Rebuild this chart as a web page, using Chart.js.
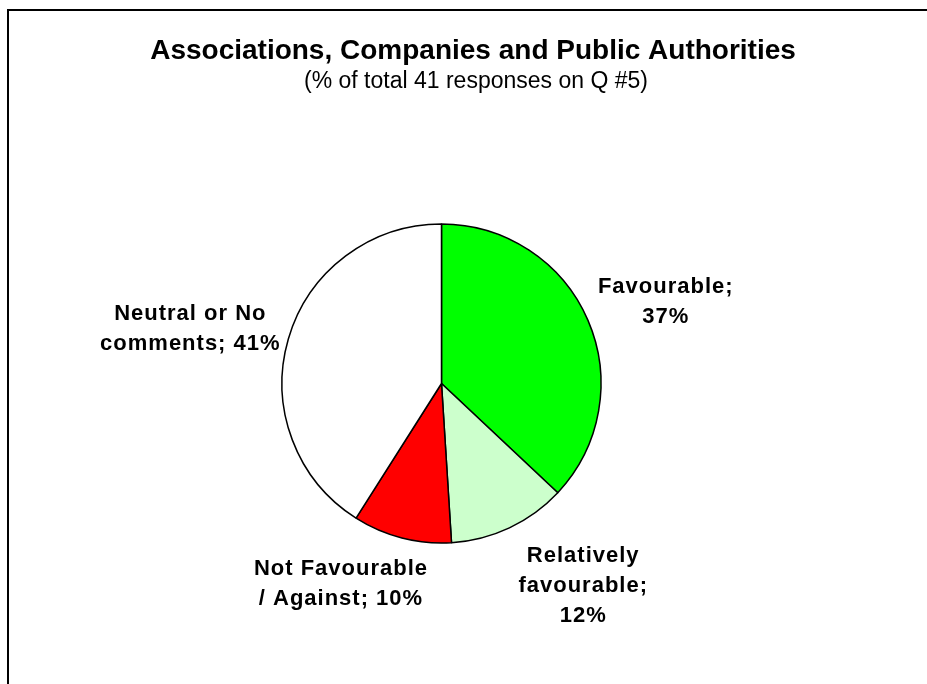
<!DOCTYPE html>
<html>
<head>
<meta charset="utf-8">
<title>Q5 responses</title>
<script src="https://cdn.jsdelivr.net/npm/chart.js@4.4.0/dist/chart.umd.min.js"></script>
<style>
  html, body { margin: 0; padding: 0; background: #fff; }
  #wrap { width: 927px; height: 684px; position: relative; }
</style>
</head>
<body>
<div id="wrap"><canvas id="opinionChart"></canvas></div>
<script>
// answers to Q #5, share of the 41 responses
var categories = ['Favourable', 'Relatively favourable', 'Not Favourable / Against', 'Neutral or No comments'];
var shares = [37, 12, 10, 41];
var sliceColors = ['#00ff00', '#ccffcc', '#ff0000', '#ffffff'];
// how each slice label is broken into lines, {p} = the share
var labelTemplates = ['Favourable;\n{p}', 'Relatively\nfavourable;\n{p}', 'Not Favourable\n/ Against; {p}', 'Neutral or No\ncomments; {p}'];

var titleText = 'Associations, Companies and Public Authorities';
var subtitleText = '(% of total 41 responses on Q #5)';

var LABEL_FONT = 'bold 22px "Liberation Sans", Arial, sans-serif';

// white background, frame line and the two heading lines
var frameAndTitle = {
  id: 'frameAndTitle',
  beforeDraw: function (chart) {
    var ctx = chart.ctx;
    ctx.save();
    ctx.fillStyle = '#fff';
    ctx.fillRect(0, 0, chart.width, chart.height);
    ctx.strokeStyle = '#000';
    ctx.lineWidth = 2;
    ctx.strokeRect(8, 10, chart.width + 20, chart.height + 20);

    ctx.fillStyle = '#000';
    ctx.textAlign = 'center';
    ctx.textBaseline = 'middle';
    ctx.font = 'bold 28px "Liberation Sans", Arial, sans-serif';
    ctx.fillText(titleText, 473, 51);
    ctx.font = '23px "Liberation Sans", Arial, sans-serif';
    ctx.fillText(subtitleText, 476, 82);
    ctx.restore();
  }
};

// "Category; NN%" text placed outside each slice
var sliceLabels = {
  id: 'sliceLabels',
  afterDatasetsDraw: function (chart, args, opts) {
    var ctx = chart.ctx;
    var meta = chart.getDatasetMeta(0);
    ctx.save();
    ctx.font = LABEL_FONT;
    ctx.letterSpacing = '1px';
    ctx.fillStyle = '#000';
    ctx.textAlign = 'center';
    ctx.textBaseline = 'middle';
    meta.data.forEach(function (arc, i) {
      var p = arc.getProps(['x', 'y', 'startAngle', 'endAngle', 'outerRadius'], true);
      var mid = (p.startAngle + p.endAngle) / 2;
      var cos = Math.cos(mid), sin = Math.sin(mid);
      var lines = labelTemplates[i].replace('{p}', shares[i] + '%').split('\n');
      var w = Math.max.apply(null, lines.map(function (l) { return ctx.measureText(l).width; }));
      var h = lines.length * opts.lineHeight;
      var r = p.outerRadius + opts.gap;
      var nudge = opts.nudge[i] || [0, 0];
      var cx = p.x + r * cos + (w / 2) * cos + nudge[0];
      var cy = p.y + r * sin + (h / 2) * sin + nudge[1];
      lines.forEach(function (line, k) {
        ctx.fillText(line, cx, cy + (k - (lines.length - 1) / 2) * opts.lineHeight);
      });
    });
    ctx.restore();
  }
};

var opinionChart = new Chart(document.getElementById('opinionChart'), {
  type: 'pie',
  data: {
    labels: categories,
    datasets: [{
      data: shares,
      backgroundColor: sliceColors,
      borderColor: '#000',
      borderWidth: 1.5,
      hoverOffset: 0
    }]
  },
  plugins: [frameAndTitle, sliceLabels],
  options: {
    responsive: true,
    maintainAspectRatio: false,
    animation: false,
    events: [],
    radius: 159.5,
    layout: {
      padding: { left: 282, right: 326, top: 224, bottom: 141 }
    },
    plugins: {
      legend: { display: false },
      tooltip: { enabled: false },
      title: { display: false },
      sliceLabels: {
        gap: 17,
        lineHeight: 30,
        nudge: [[0, 0], [39, 2], [-35, 0], [5, 3]]
      }
    }
  }
});
</script>
</body>
</html>
